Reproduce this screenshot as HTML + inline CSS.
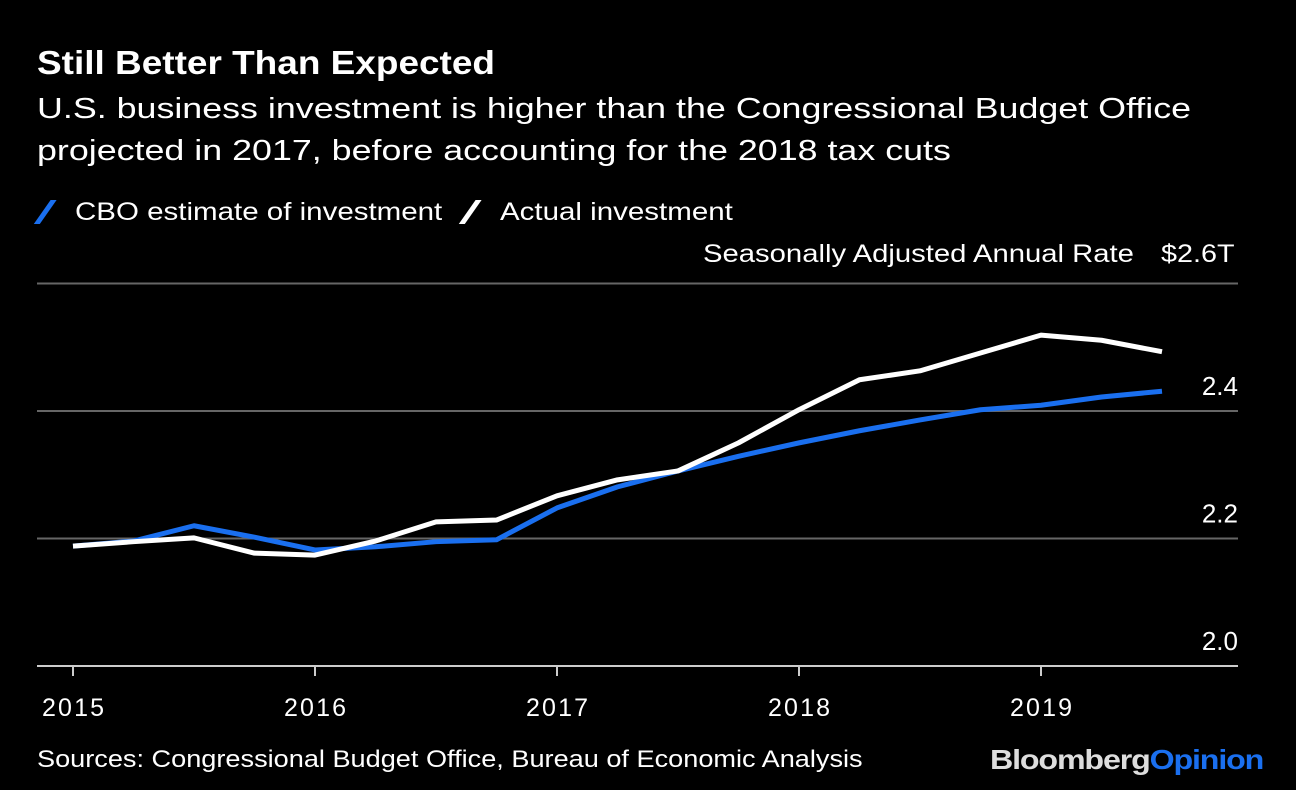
<!DOCTYPE html>
<html><head><meta charset="utf-8"><style>
html,body{margin:0;padding:0;background:#000;}
body{width:1296px;height:790px;position:relative;overflow:hidden;font-family:"Liberation Sans",sans-serif;color:#fff;}
.t{position:absolute;white-space:nowrap;transform-origin:0 0;}
</style></head><body>
<div class="t" style="left:37px;top:44px;font-size:33px;font-weight:bold;transform:scaleX(1.12);">Still Better Than Expected</div>
<div class="t" style="left:37px;top:88px;font-size:29px;line-height:42px;transform:scaleX(1.235);">U.S. business investment is higher than the Congressional Budget Office<br>projected in 2017, before accounting for the 2018 tax cuts</div>
<div class="t" style="left:37px;top:196px;font-size:25px;"><span style="display:inline-block;width:6px;height:24px;background:#1a6fef;transform:skewX(-35deg) translateY(4px);margin:0 0 0 8px;"></span><span style="display:inline-block;transform:scaleX(1.18);transform-origin:0 0;margin-left:24px;">CBO estimate of investment</span></div>
<div class="t" style="left:462px;top:196px;font-size:25px;"><span style="display:inline-block;width:6px;height:24px;background:#fff;transform:skewX(-35deg) translateY(4px);margin:0 0 0 8px;"></span><span style="display:inline-block;transform:scaleX(1.18);transform-origin:0 0;margin-left:24px;">Actual investment</span></div>
<div class="t" style="left:703px;top:240px;font-size:25px;transform:scaleX(1.17);">Seasonally Adjusted Annual Rate</div>
<div class="t" style="left:1161px;top:240px;font-size:25px;transform:scaleX(1.15);">$2.6T</div>
<div class="t" style="left:37px;top:746px;font-size:24px;transform:scaleX(1.13);">Sources: Congressional Budget Office, Bureau of Economic Analysis</div>
<div class="t" style="left:990px;top:744px;font-size:28px;font-weight:bold;letter-spacing:-1px;transform:scaleX(1.15);"><span style="color:#ddd">Bloomberg</span><span style="color:#1a6fef">Opinion</span></div>
<svg id="chart" width="1296" height="790" style="position:absolute;left:0;top:0;"></svg>
<script>
const quarters=["2015Q1","2015Q2","2015Q3","2015Q4","2016Q1","2016Q2","2016Q3","2016Q4","2017Q1","2017Q2","2017Q3","2017Q4","2018Q1","2018Q2","2018Q3","2018Q4","2019Q1","2019Q2","2019Q3"];
const cboValues=[2.188,2.196,2.220,2.202,2.182,2.187,2.195,2.198,2.248,2.281,2.306,2.329,2.350,2.369,2.386,2.402,2.409,2.422,2.431];
const actualValues=[2.188,2.195,2.201,2.177,2.174,2.196,2.226,2.229,2.267,2.292,2.306,2.350,2.402,2.449,2.463,2.491,2.519,2.511,2.493];
const yTicks=[2.0,2.2,2.4,2.6];
const yTickLabels=["2.0","2.2","2.4",""];
const xYears=[2015,2016,2017,2018,2019];
const NS="http://www.w3.org/2000/svg";
const svg=document.getElementById('chart');
function x(i){return 73+i*60.5;}
function xYear(yr){return 73+(yr-2015)*242;}
function y(v){return 666-(v-2.0)*637.5;}
function mk(tag,attrs){const e=document.createElementNS(NS,tag);for(const k in attrs)e.setAttribute(k,attrs[k]);svg.appendChild(e);return e;}
yTicks.forEach((t,i)=>{
  const l=mk('line',{x1:37,x2:1238,y1:y(t),y2:y(t),stroke:i===0?'#ccc':'#666','stroke-width':2});
  
  
  if(yTickLabels[i]){
    const tx=mk('text',{x:1238,y:y(t)-16,'text-anchor':'end','font-size':26,fill:'#fff','font-family':'Liberation Sans, sans-serif'});
    tx.textContent=yTickLabels[i];
    
    
  }
});
xYears.forEach(yr=>{
  const l=mk('line',{x1:xYear(yr),x2:xYear(yr),y1:666,y2:676,stroke:'#ccc','stroke-width':2});
  
  
  const tx=mk('text',{x:xYear(yr),y:716,'text-anchor':'middle','font-size':25,fill:'#fff','font-family':'Liberation Sans, sans-serif',textLength:62});
  tx.textContent=String(yr);
  
  
});
function line(vals,color,name){
  const p=mk('polyline',{points:vals.map((v,i)=>x(i)+','+y(v)).join(' '),fill:'none',stroke:color,'stroke-width':5,'stroke-linejoin':'round'});
  
  
}
line(cboValues,'#1a6fef','cbo-estimate-line');
line(actualValues,'#ffffff','actual-investment-line');
</script>
</body></html>
